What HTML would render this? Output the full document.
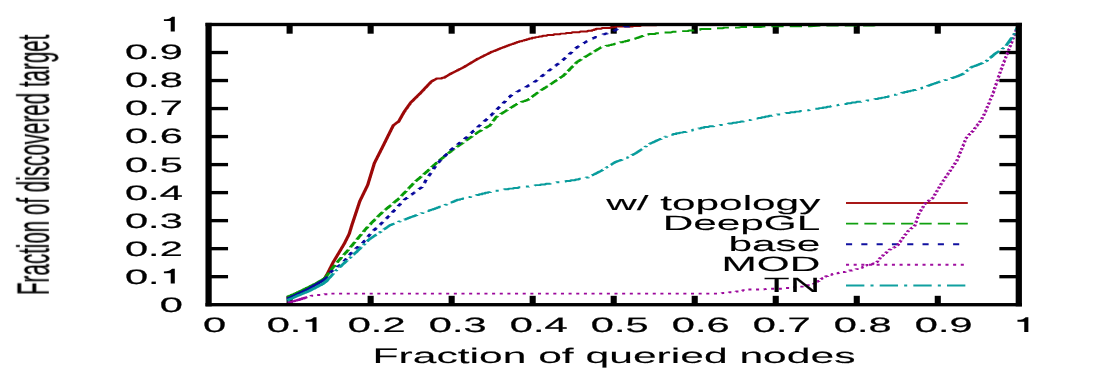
<!DOCTYPE html>
<html><head><meta charset="utf-8"><title>chart</title><style>html,body{margin:0;padding:0;background:#fff;overflow:hidden}</style></head><body><svg width="1096" height="371" viewBox="0 0 1096 371" style="display:block">
<rect width="1096" height="371" fill="#fff"/>
<defs><clipPath id="cp"><rect x="122.71" y="23.50" width="476.59" height="282.20"/></clipPath></defs>
<style>text{font-family:"Liberation Sans",sans-serif;fill:#000;stroke:#000;stroke-width:0.22px;stroke-linejoin:round;vector-effect:non-scaling-stroke;text-rendering:geometricPrecision}text.t{stroke-width:0.10px}</style><g opacity="0.999">
<g fill="#000">
<rect x="208.60" y="275.00" width="19.45" height="3.35"/>
<rect x="999.35" y="275.00" width="19.45" height="3.35"/>
<rect x="286.57" y="295.80" width="6.10" height="8.90"/>
<rect x="286.57" y="24.50" width="6.10" height="9.20"/>
<rect x="208.60" y="246.98" width="19.45" height="3.35"/>
<rect x="999.35" y="246.98" width="19.45" height="3.35"/>
<rect x="367.59" y="295.80" width="6.10" height="8.90"/>
<rect x="367.59" y="24.50" width="6.10" height="9.20"/>
<rect x="208.60" y="218.96" width="19.45" height="3.35"/>
<rect x="999.35" y="218.96" width="19.45" height="3.35"/>
<rect x="448.61" y="295.80" width="6.10" height="8.90"/>
<rect x="448.61" y="24.50" width="6.10" height="9.20"/>
<rect x="208.60" y="190.94" width="19.45" height="3.35"/>
<rect x="999.35" y="190.94" width="19.45" height="3.35"/>
<rect x="529.63" y="295.80" width="6.10" height="8.90"/>
<rect x="529.63" y="24.50" width="6.10" height="9.20"/>
<rect x="208.60" y="162.92" width="19.45" height="3.35"/>
<rect x="999.35" y="162.92" width="19.45" height="3.35"/>
<rect x="610.65" y="295.80" width="6.10" height="8.90"/>
<rect x="610.65" y="24.50" width="6.10" height="9.20"/>
<rect x="208.60" y="134.91" width="19.45" height="3.35"/>
<rect x="999.35" y="134.91" width="19.45" height="3.35"/>
<rect x="691.67" y="295.80" width="6.10" height="8.90"/>
<rect x="691.67" y="24.50" width="6.10" height="9.20"/>
<rect x="208.60" y="106.89" width="19.45" height="3.35"/>
<rect x="999.35" y="106.89" width="19.45" height="3.35"/>
<rect x="772.69" y="295.80" width="6.10" height="8.90"/>
<rect x="772.69" y="24.50" width="6.10" height="9.20"/>
<rect x="208.60" y="78.86" width="19.45" height="3.35"/>
<rect x="999.35" y="78.86" width="19.45" height="3.35"/>
<rect x="853.71" y="295.80" width="6.10" height="8.90"/>
<rect x="853.71" y="24.50" width="6.10" height="9.20"/>
<rect x="208.60" y="50.84" width="19.45" height="3.35"/>
<rect x="999.35" y="50.84" width="19.45" height="3.35"/>
<rect x="934.73" y="295.80" width="6.10" height="8.90"/>
<rect x="934.73" y="24.50" width="6.10" height="9.20"/>
</g>
<text class="t" transform="translate(820.30 209.50) scale(2.035 1)" text-anchor="end" font-size="20.80">w/ topology</text>
<g transform="scale(1.700 1)" fill="none" stroke="#9c0808" stroke-linejoin="round">
<path stroke="#a81818" stroke-width="1.95" d="M497.65 203.00 H569.29"/>
<path clip-path="url(#cp)" stroke-width="1.95" d="M169.12 298.20 L169.50 298.20 L169.59 297.50 L170.32 297.50 L170.49 296.80 L171.17 296.80 L171.34 296.10 L172.03 296.10 L172.20 295.40 L172.89 295.40 L173.06 294.70 L173.74 294.70 L173.91 294.00 L174.60 294.00 L174.77 293.30 L175.46 293.30 L175.63 292.60 L176.31 292.60 L176.48 291.90 L177.17 291.90 L177.34 291.20 L178.02 291.20 L178.20 290.50 L178.88 290.50 L179.05 289.80 L179.74 289.80 L179.91 289.10 L180.60 289.10 L180.76 288.40 L181.44 288.40 L181.59 287.70 L182.18 287.70 L182.33 287.00 L182.93 287.00 L183.08 286.30 L183.68 286.30 L183.83 285.60 L184.42 285.60 L184.57 284.90 L185.17 284.90 L185.32 284.20 L185.92 284.20 L186.07 283.50 L186.66 283.50 L186.81 282.80 L187.41 282.80 L187.56 282.10 L188.16 282.10 L188.30 281.40 L188.90 281.40 L189.05 280.70 L189.67 280.70 L189.77 280.00 L190.18 280.00 L190.27 279.30 L190.63 279.30 L190.70 278.60 L190.98 278.60 L191.03 277.90 L191.22 277.90 L191.27 277.20 L191.46 277.20 L191.51 276.50 L191.71 276.50 L191.75 275.80 L191.95 275.80 L192.00 275.10 L192.19 275.10 L192.24 274.40 L192.43 274.40 L192.48 273.70 L192.67 273.70 L192.71 273.00 L192.88 273.00 L192.92 272.30 L193.09 272.30 L193.13 271.60 L193.29 271.60 L193.34 270.90 L193.50 270.90 L193.54 270.20 L193.71 270.20 L193.75 269.50 L193.92 269.50 L193.96 268.80 L194.12 268.80 L194.17 268.10 L194.33 268.10 L194.37 267.40 L194.54 267.40 L194.58 266.70 L194.75 266.70 L194.79 266.00 L194.96 266.00 L195.00 265.30 L195.16 265.30 L195.20 264.60 L195.37 264.60 L195.41 263.90 L195.58 263.90 L195.62 263.20 L195.79 263.20 L195.83 262.50 L196.00 262.50 L196.04 261.80 L196.24 261.80 L196.29 261.10 L196.49 261.10 L196.54 260.40 L196.73 260.40 L196.78 259.70 L196.98 259.70 L197.03 259.00 L197.23 259.00 L197.28 258.30 L197.48 258.30 L197.52 257.60 L197.72 257.60 L197.77 256.90 L197.97 256.90 L198.02 256.20 L198.22 256.20 L198.27 255.50 L198.46 255.50 L198.51 254.80 L198.71 254.80 L198.76 254.10 L198.96 254.10 L199.01 253.40 L199.20 253.40 L199.25 252.70 L199.45 252.70 L199.50 252.00 L199.70 252.00 L199.75 251.30 L199.94 251.30 L199.99 250.60 L200.19 250.60 L200.24 249.90 L200.43 249.90 L200.48 249.20 L200.68 249.20 L200.73 248.50 L200.92 248.50 L200.97 247.80 L201.17 247.80 L201.22 247.10 L201.41 247.10 L201.46 246.40 L201.66 246.40 L201.71 245.70 L201.90 245.70 L201.95 245.00 L202.15 245.00 L202.20 244.30 L202.40 244.30 L202.44 243.60 L202.64 243.60 L202.68 242.90 L202.85 242.90 L202.89 242.20 L203.05 242.20 L203.09 241.50 L203.26 241.50 L203.30 240.80 L203.46 240.80 L203.51 240.10 L203.67 240.10 L203.71 239.40 L203.88 239.40 L203.92 238.70 L204.08 238.70 L204.12 238.00 L204.29 238.00 L204.33 237.30 L204.49 237.30 L204.54 236.60 L204.70 236.60 L204.74 235.90 L204.91 235.90 L204.95 235.20 L205.11 235.20 L205.15 234.50 L205.32 234.50 L205.35 233.80 L205.48 233.80 L205.51 233.10 L205.61 233.10 L205.63 232.40 L205.73 232.40 L205.76 231.70 L205.86 231.70 L205.88 231.00 L205.98 231.00 L206.01 230.30 L206.11 230.30 L206.13 229.60 L206.23 229.60 L206.26 228.90 L206.36 228.90 L206.39 228.20 L206.49 228.20 L206.51 227.50 L206.61 227.50 L206.64 226.80 L206.74 226.80 L206.76 226.10 L206.86 226.10 L206.89 225.40 L206.99 225.40 L207.01 224.70 L207.11 224.70 L207.14 224.00 L207.25 224.00 L207.28 223.30 L207.39 223.30 L207.42 222.60 L207.53 222.60 L207.55 221.90 L207.66 221.90 L207.69 221.20 L207.80 221.20 L207.83 220.50 L207.94 220.50 L207.96 219.80 L208.07 219.80 L208.10 219.10 L208.21 219.10 L208.24 218.40 L208.35 218.40 L208.38 217.70 L208.49 217.70 L208.51 217.00 L208.62 217.00 L208.65 216.30 L208.76 216.30 L208.79 215.60 L208.90 215.60 L208.92 214.90 L209.03 214.90 L209.06 214.20 L209.17 214.20 L209.20 213.50 L209.31 213.50 L209.33 212.80 L209.44 212.80 L209.47 212.10 L209.58 212.10 L209.61 211.40 L209.72 211.40 L209.74 210.70 L209.85 210.70 L209.88 210.00 L209.99 210.00 L210.02 209.30 L210.12 209.30 L210.15 208.60 L210.26 208.60 L210.29 207.90 L210.40 207.90 L210.42 207.20 L210.53 207.20 L210.56 206.50 L210.67 206.50 L210.70 205.80 L210.81 205.80 L210.83 205.10 L210.94 205.10 L210.97 204.40 L211.08 204.40 L211.11 203.70 L211.21 203.70 L211.24 203.00 L211.35 203.00 L211.38 202.30 L211.49 202.30 L211.51 201.60 L211.62 201.60 L211.65 200.90 L211.81 200.90 L211.85 200.20 L212.01 200.20 L212.05 199.50 L212.22 199.50 L212.26 198.80 L212.42 198.80 L212.46 198.10 L212.62 198.10 L212.66 197.40 L212.82 197.40 L212.86 196.70 L213.02 196.70 L213.06 196.00 L213.22 196.00 L213.26 195.30 L213.42 195.30 L213.46 194.60 L213.62 194.60 L213.66 193.90 L213.82 193.90 L213.86 193.20 L214.02 193.20 L214.06 192.50 L214.22 192.50 L214.26 191.80 L214.42 191.80 L214.46 191.10 L214.62 191.10 L214.66 190.40 L214.83 190.40 L214.87 189.70 L215.03 189.70 L215.07 189.00 L215.23 189.00 L215.27 188.30 L215.43 188.30 L215.47 187.60 L215.63 187.60 L215.67 186.90 L215.83 186.90 L215.87 186.20 L216.03 186.20 L216.07 185.50 L216.24 185.50 L216.27 184.80 L216.38 184.80 L216.41 184.10 L216.51 184.10 L216.53 183.40 L216.63 183.40 L216.66 182.70 L216.76 182.70 L216.78 182.00 L216.88 182.00 L216.91 181.30 L217.01 181.30 L217.04 180.60 L217.14 180.60 L217.16 179.90 L217.26 179.90 L217.29 179.20 L217.39 179.20 L217.41 178.50 L217.51 178.50 L217.54 177.80 L217.64 177.80 L217.67 177.10 L217.77 177.10 L217.79 176.40 L217.89 176.40 L217.92 175.70 L218.02 175.70 L218.04 175.00 L218.14 175.00 L218.17 174.30 L218.27 174.30 L218.30 173.60 L218.40 173.60 L218.42 172.90 L218.52 172.90 L218.55 172.20 L218.65 172.20 L218.67 171.50 L218.77 171.50 L218.80 170.80 L218.90 170.80 L218.93 170.10 L219.03 170.10 L219.05 169.40 L219.15 169.40 L219.18 168.70 L219.28 168.70 L219.30 168.00 L219.40 168.00 L219.43 167.30 L219.53 167.30 L219.56 166.60 L219.66 166.60 L219.68 165.90 L219.78 165.90 L219.81 165.20 L219.91 165.20 L219.93 164.50 L220.03 164.50 L220.06 163.80 L220.16 163.80 L220.18 163.10 L220.32 163.10 L220.36 162.40 L220.53 162.40 L220.57 161.70 L220.73 161.70 L220.78 161.00 L220.94 161.00 L220.98 160.30 L221.15 160.30 L221.19 159.60 L221.36 159.60 L221.40 158.90 L221.57 158.90 L221.61 158.20 L221.78 158.20 L221.82 157.50 L221.98 157.50 L222.02 156.80 L222.19 156.80 L222.23 156.10 L222.40 156.10 L222.44 155.40 L222.61 155.40 L222.65 154.70 L222.82 154.70 L222.86 154.00 L223.02 154.00 L223.07 153.30 L223.23 153.30 L223.27 152.60 L223.44 152.60 L223.48 151.90 L223.65 151.90 L223.69 151.20 L223.86 151.20 L223.90 150.50 L224.06 150.50 L224.11 149.80 L224.27 149.80 L224.31 149.10 L224.48 149.10 L224.52 148.40 L224.69 148.40 L224.73 147.70 L224.90 147.70 L224.94 147.00 L225.10 147.00 L225.15 146.30 L225.31 146.30 L225.35 145.60 L225.52 145.60 L225.56 144.90 L225.73 144.90 L225.77 144.20 L225.93 144.20 L225.97 143.50 L226.14 143.50 L226.18 142.80 L226.34 142.80 L226.38 142.10 L226.54 142.10 L226.58 141.40 L226.75 141.40 L226.79 140.70 L226.95 140.70 L226.99 140.00 L227.15 140.00 L227.19 139.30 L227.36 139.30 L227.40 138.60 L227.56 138.60 L227.60 137.90 L227.76 137.90 L227.80 137.20 L227.97 137.20 L228.01 136.50 L228.17 136.50 L228.21 135.80 L228.38 135.80 L228.42 135.10 L228.58 135.10 L228.62 134.40 L228.79 134.40 L228.83 133.70 L228.99 133.70 L229.04 133.00 L229.20 133.00 L229.24 132.30 L229.41 132.30 L229.45 131.60 L229.61 131.60 L229.65 130.90 L229.82 130.90 L229.86 130.20 L230.02 130.20 L230.06 129.50 L230.23 129.50 L230.27 128.80 L230.44 128.80 L230.48 128.10 L230.64 128.10 L230.68 127.40 L230.85 127.40 L230.89 126.70 L231.05 126.70 L231.09 126.00 L231.26 126.00 L231.30 125.30 L231.67 125.30 L231.75 124.60 L232.21 124.60 L232.32 123.90 L232.77 123.90 L232.88 123.20 L233.32 123.20 L233.43 122.50 L233.88 122.50 L233.99 121.80 L234.46 121.80 L234.52 121.10 L234.72 121.10 L234.77 120.40 L234.96 120.40 L235.00 119.70 L235.19 119.70 L235.24 119.00 L235.43 119.00 L235.47 118.30 L235.66 118.30 L235.71 117.60 L235.89 117.60 L235.94 116.90 L236.13 116.90 L236.17 116.20 L236.36 116.20 L236.41 115.50 L236.60 115.50 L236.64 114.80 L236.83 114.80 L236.88 114.10 L237.06 114.10 L237.11 113.40 L237.30 113.40 L237.34 112.70 L237.53 112.70 L237.58 112.00 L237.79 112.00 L237.84 111.30 L238.07 111.30 L238.13 110.60 L238.37 110.60 L238.43 109.90 L238.66 109.90 L238.72 109.20 L238.96 109.20 L239.01 108.50 L239.25 108.50 L239.31 107.80 L239.54 107.80 L239.60 107.10 L239.84 107.10 L239.89 106.40 L240.13 106.40 L240.19 105.70 L240.42 105.70 L240.48 105.00 L240.72 105.00 L240.77 104.30 L241.01 104.30 L241.07 103.60 L241.30 103.60 L241.36 102.90 L241.60 102.90 L241.66 102.20 L242.00 102.20 L242.08 101.50 L242.42 101.50 L242.50 100.80 L242.84 100.80 L242.92 100.10 L243.26 100.10 L243.34 99.40 L243.68 99.40 L243.76 98.70 L244.10 98.70 L244.18 98.00 L244.52 98.00 L244.60 97.30 L244.94 97.30 L245.02 96.60 L245.36 96.60 L245.44 95.90 L245.78 95.90 L245.86 95.20 L246.20 95.20 L246.28 94.50 L246.62 94.50 L246.70 93.80 L247.04 93.80 L247.12 93.10 L247.46 93.10 L247.54 92.40 L247.85 92.40 L247.93 91.70 L248.24 91.70 L248.32 91.00 L248.63 91.00 L248.71 90.30 L249.02 90.30 L249.10 89.60 L249.41 89.60 L249.49 88.90 L249.80 88.90 L249.88 88.20 L250.19 88.20 L250.27 87.50 L250.58 87.50 L250.66 86.80 L250.97 86.80 L251.05 86.10 L251.36 86.10 L251.44 85.40 L251.75 85.40 L251.83 84.70 L252.14 84.70 L252.22 84.00 L252.53 84.00 L252.61 83.30 L252.92 83.30 L253.00 82.60 L253.31 82.60 L253.39 81.90 L253.70 81.90 L253.78 81.20 L254.36 81.20 L254.49 80.50 L255.12 80.50 L255.27 79.80 L255.88 79.80 L256.04 79.10 L256.65 79.10 L256.80 78.40 L259.85 78.40 L260.15 77.70 L261.47 77.70 L261.61 77.00 L262.16 77.00 L262.30 76.30 L262.85 76.30 L262.99 75.60 L263.54 75.60 L263.68 74.90 L264.23 74.90 L264.37 74.20 L264.93 74.20 L265.07 73.50 L265.74 73.50 L265.90 72.80 L266.55 72.80 L266.72 72.10 L267.37 72.10 L267.53 71.40 L268.19 71.40 L268.35 70.70 L269.01 70.70 L269.17 70.00 L269.82 70.00 L269.99 69.30 L270.64 69.30 L270.80 68.60 L271.46 68.60 L271.62 67.90 L272.28 67.90 L272.43 67.20 L273.06 67.20 L273.20 66.50 L273.75 66.50 L273.89 65.80 L274.44 65.80 L274.58 65.10 L275.13 65.10 L275.27 64.40 L275.82 64.40 L275.96 63.70 L276.51 63.70 L276.65 63.00 L277.20 63.00 L277.34 62.30 L277.89 62.30 L278.03 61.60 L278.58 61.60 L278.72 60.90 L279.27 60.90 L279.40 60.20 L279.96 60.20 L280.09 59.50 L280.65 59.50 L280.78 58.80 L281.44 58.80 L281.60 58.10 L282.26 58.10 L282.42 57.40 L283.08 57.40 L283.24 56.70 L283.89 56.70 L284.06 56.00 L284.71 56.00 L284.88 55.30 L285.53 55.30 L285.69 54.60 L286.35 54.60 L286.51 53.90 L287.16 53.90 L287.33 53.20 L287.98 53.20 L288.15 52.50 L288.84 52.50 L289.01 51.80 L289.85 51.80 L290.06 51.10 L290.88 51.10 L291.09 50.40 L291.91 50.40 L292.12 49.70 L292.94 49.70 L293.15 49.00 L293.97 49.00 L294.18 48.30 L295.00 48.30 L295.21 47.60 L296.03 47.60 L296.24 46.90 L297.11 46.90 L297.33 46.20 L298.26 46.20 L298.49 45.50 L299.41 45.50 L299.64 44.80 L300.56 44.80 L300.79 44.10 L301.70 44.10 L301.93 43.40 L302.85 43.40 L303.08 42.70 L304.00 42.70 L304.23 42.00 L305.33 42.00 L305.60 41.30 L306.79 41.30 L307.08 40.60 L308.25 40.60 L308.54 39.90 L309.71 39.90 L310.00 39.20 L311.17 39.20 L311.47 38.50 L312.75 38.50 L313.07 37.80 L314.76 37.80 L315.18 37.10 L316.82 37.10 L317.24 36.40 L318.88 36.40 L319.29 35.70 L321.55 35.70 L322.09 35.00 L325.38 35.00 L326.14 34.30 L329.18 34.30 L329.87 33.60 L332.63 33.60 L333.32 32.90 L336.15 32.90 L336.86 32.20 L340.62 32.20 L341.54 31.50 L345.41 31.50 L345.90 30.80 L347.99 30.80 L348.24 30.10 L349.26 30.10 L349.51 29.40 L350.53 29.40 L350.79 28.70 L353.68 28.70 L354.35 28.00 L358.98 28.00 L359.52 27.30 L361.70 27.30 L362.24 26.60 L371.95 26.60 L372.83 25.90 L376.39 25.90 L377.27 25.20 L386.21 25.20 L388.30 24.50 L411.76 24.50"/>
</g>
<text class="t" transform="translate(820.30 230.10) scale(2.035 1)" text-anchor="end" font-size="20.80">DeepGL</text>
<g transform="scale(1.700 1)" fill="none" stroke="#089c08" stroke-linejoin="round">
<path stroke="#10a010" stroke-width="1.95" stroke-dasharray="7.2 3.6" d="M497.65 223.60 H569.29"/>
<path clip-path="url(#cp)" stroke-width="2.15" d="M169.12 297.00 L169.53 297.00 L169.62 296.30 L170.41 296.30 L170.59 295.60 L171.33 295.60 L171.51 294.90 L172.25 294.90 L172.43 294.20 L173.17 294.20 L173.35 293.50 L174.09 293.50 L174.27 292.80 L175.01 292.80 L175.18 292.10 L175.88 292.10 L176.05 291.40 L176.72 291.40 L176.89 290.70 L177.57 290.70 L177.74 290.00 L178.42 290.00 L178.59 289.30 L179.27 289.30 L179.44 288.60 L180.12 288.60 L180.29 287.90 L180.97 287.90 L181.13 287.20 L181.81 287.20 L181.97 286.50 L182.64 286.50 L182.81 285.80 L183.47 285.80 L183.64 285.10 L184.31 285.10 L184.48 284.40 L185.15 284.40 L185.31 283.70 L185.96 283.70 L186.10 283.00 L186.66 283.00 L186.80 282.30 L187.36 282.30 L187.50 281.60 L188.06 281.60 L188.20 280.90 L188.76 280.90 L188.90 280.20 L189.46 280.20 L189.60 279.50 L190.16 279.50 L190.30 278.80 L190.90 278.80 L190.95 278.10 L191.18 278.10"/>
<path clip-path="url(#cp)" stroke-width="1.95" stroke-dasharray="7.2 3.6" d="M191.18 278.20 L191.31 278.20 L191.34 277.50 L191.60 277.50 L191.66 276.80 L191.91 276.80 L191.97 276.10 L192.21 276.10 L192.28 275.40 L192.52 275.40 L192.58 274.70 L192.82 274.70 L192.89 274.00 L193.13 274.00 L193.19 273.30 L193.43 273.30 L193.50 272.60 L193.74 272.60 L193.80 271.90 L194.05 271.90 L194.11 271.20 L194.35 271.20 L194.41 270.50 L194.66 270.50 L194.72 269.80 L194.97 269.80 L195.03 269.10 L195.30 269.10 L195.37 268.40 L195.63 268.40 L195.70 267.70 L195.97 267.70 L196.03 267.00 L196.30 267.00 L196.37 266.30 L196.63 266.30 L196.70 265.60 L196.97 265.60 L197.03 264.90 L197.30 264.90 L197.36 264.20 L197.63 264.20 L197.70 263.50 L197.96 263.50 L198.03 262.80 L198.30 262.80 L198.36 262.10 L198.63 262.10 L198.70 261.40 L198.96 261.40 L199.03 260.70 L199.30 260.70 L199.36 260.00 L199.66 260.00 L199.74 259.30 L200.03 259.30 L200.11 258.60 L200.41 258.60 L200.48 257.90 L200.78 257.90 L200.85 257.20 L201.15 257.20 L201.22 256.50 L201.52 256.50 L201.60 255.80 L201.89 255.80 L201.97 255.10 L202.27 255.10 L202.34 254.40 L202.64 254.40 L202.71 253.70 L203.01 253.70 L203.09 253.00 L203.38 253.00 L203.46 252.30 L203.76 252.30 L203.83 251.60 L204.13 251.60 L204.20 250.90 L204.50 250.90 L204.57 250.20 L204.87 250.20 L204.94 249.50 L205.22 249.50 L205.28 248.80 L205.56 248.80 L205.63 248.10 L205.90 248.10 L205.97 247.40 L206.24 247.40 L206.31 246.70 L206.59 246.70 L206.65 246.00 L206.93 246.00 L207.00 245.30 L207.27 245.30 L207.34 244.60 L207.61 244.60 L207.68 243.90 L207.96 243.90 L208.02 243.20 L208.30 243.20 L208.37 242.50 L208.64 242.50 L208.71 241.80 L208.98 241.80 L209.05 241.10 L209.33 241.10 L209.39 240.40 L209.67 240.40 L209.74 239.70 L210.01 239.70 L210.08 239.00 L210.35 239.00 L210.42 238.30 L210.70 238.30 L210.77 237.60 L211.04 237.60 L211.11 236.90 L211.39 236.90 L211.46 236.20 L211.74 236.20 L211.81 235.50 L212.08 235.50 L212.15 234.80 L212.43 234.80 L212.50 234.10 L212.78 234.10 L212.84 233.40 L213.12 233.40 L213.19 232.70 L213.47 232.70 L213.54 232.00 L213.81 232.00 L213.88 231.30 L214.16 231.30 L214.23 230.60 L214.51 230.60 L214.58 229.90 L214.85 229.90 L214.92 229.20 L215.20 229.20 L215.27 228.50 L215.55 228.50 L215.61 227.80 L215.89 227.80 L215.96 227.10 L216.28 227.10 L216.36 226.40 L216.69 226.40 L216.77 225.70 L217.09 225.70 L217.18 225.00 L217.50 225.00 L217.58 224.30 L217.91 224.30 L217.99 223.60 L218.32 223.60 L218.40 222.90 L218.72 222.90 L218.81 222.20 L219.13 222.20 L219.21 221.50 L219.54 221.50 L219.62 220.80 L219.95 220.80 L220.03 220.10 L220.35 220.10 L220.44 219.40 L220.76 219.40 L220.84 218.70 L221.17 218.70 L221.25 218.00 L221.58 218.00 L221.66 217.30 L222.00 217.30 L222.09 216.60 L222.43 216.60 L222.51 215.90 L222.86 215.90 L222.94 215.20 L223.28 215.20 L223.37 214.50 L223.71 214.50 L223.79 213.80 L224.13 213.80 L224.22 213.10 L224.56 213.10 L224.64 212.40 L224.98 212.40 L225.07 211.70 L225.46 211.70 L225.56 211.00 L225.96 211.00 L226.06 210.30 L226.45 210.30 L226.55 209.60 L226.95 209.60 L227.05 208.90 L227.45 208.90 L227.55 208.20 L227.95 208.20 L228.05 207.50 L228.45 207.50 L228.55 206.80 L228.94 206.80 L229.04 206.10 L229.44 206.10 L229.54 205.40 L229.94 205.40 L230.04 204.70 L230.44 204.70 L230.54 204.00 L230.93 204.00 L231.03 203.30 L231.43 203.30 L231.53 202.60 L231.93 202.60 L232.03 201.90 L232.43 201.90 L232.53 201.20 L232.93 201.20 L233.03 200.50 L233.42 200.50 L233.52 199.80 L233.92 199.80 L234.02 199.10 L234.43 199.10 L234.51 198.40 L234.86 198.40 L234.94 197.70 L235.26 197.70 L235.34 197.00 L235.66 197.00 L235.74 196.30 L236.05 196.30 L236.13 195.60 L236.45 195.60 L236.53 194.90 L236.85 194.90 L236.93 194.20 L237.24 194.20 L237.32 193.50 L237.64 193.50 L237.72 192.80 L238.04 192.80 L238.12 192.10 L238.43 192.10 L238.51 191.40 L238.83 191.40 L238.91 190.70 L239.23 190.70 L239.31 190.00 L239.62 190.00 L239.70 189.30 L240.02 189.30 L240.10 188.60 L240.42 188.60 L240.50 187.90 L240.81 187.90 L240.89 187.20 L241.21 187.20 L241.29 186.50 L241.61 186.50 L241.69 185.80 L242.00 185.80 L242.08 185.10 L242.40 185.10 L242.48 184.40 L242.80 184.40 L242.88 183.70 L243.20 183.70 L243.27 183.00 L243.59 183.00 L243.67 182.30 L243.99 182.30 L244.07 181.60 L244.47 181.60 L244.57 180.90 L244.95 180.90 L245.05 180.20 L245.44 180.20 L245.53 179.50 L245.92 179.50 L246.01 178.80 L246.40 178.80 L246.50 178.10 L246.88 178.10 L246.98 177.40 L247.37 177.40 L247.46 176.70 L247.85 176.70 L247.95 176.00 L248.33 176.00 L248.43 175.30 L248.82 175.30 L248.91 174.60 L249.30 174.60 L249.39 173.90 L249.77 173.90 L249.86 173.20 L250.23 173.20 L250.32 172.50 L250.68 172.50 L250.77 171.80 L251.14 171.80 L251.23 171.10 L251.59 171.10 L251.69 170.40 L252.05 170.40 L252.14 169.70 L252.51 169.70 L252.60 169.00 L252.96 169.00 L253.05 168.30 L253.42 168.30 L253.51 167.60 L253.87 167.60 L253.97 166.90 L254.33 166.90 L254.42 166.20 L254.79 166.20 L254.88 165.50 L255.24 165.50 L255.33 164.80 L255.70 164.80 L255.79 164.10 L256.15 164.10 L256.25 163.40 L256.61 163.40 L256.70 162.70 L257.07 162.70 L257.16 162.00 L257.53 162.00 L257.63 161.30 L258.04 161.30 L258.15 160.60 L258.56 160.60 L258.66 159.90 L259.07 159.90 L259.18 159.20 L259.59 159.20 L259.69 158.50 L260.10 158.50 L260.21 157.80 L260.62 157.80 L260.72 157.10 L261.13 157.10 L261.24 156.40 L261.65 156.40 L261.75 155.70 L262.16 155.70 L262.26 155.00 L262.68 155.00 L262.78 154.30 L263.19 154.30 L263.29 153.60 L263.71 153.60 L263.81 152.90 L264.22 152.90 L264.32 152.20 L264.74 152.20 L264.84 151.50 L265.25 151.50 L265.35 150.80 L265.82 150.80 L265.93 150.10 L266.41 150.10 L266.53 149.40 L267.00 149.40 L267.12 148.70 L267.59 148.70 L267.71 148.00 L268.18 148.00 L268.30 147.30 L268.77 147.30 L268.89 146.60 L269.37 146.60 L269.48 145.90 L269.96 145.90 L270.08 145.20 L270.55 145.20 L270.67 144.50 L271.14 144.50 L271.26 143.80 L271.73 143.80 L271.85 143.10 L272.32 143.10 L272.44 142.40 L272.91 142.40 L273.03 141.70 L273.50 141.70 L273.62 141.00 L274.08 141.00 L274.20 140.30 L274.66 140.30 L274.78 139.60 L275.24 139.60 L275.36 138.90 L275.83 138.90 L275.94 138.20 L276.41 138.20 L276.52 137.50 L276.99 137.50 L277.10 136.80 L277.57 136.80 L277.68 136.10 L278.15 136.10 L278.26 135.40 L278.73 135.40 L278.85 134.70 L279.31 134.70 L279.43 134.00 L279.89 134.00 L280.01 133.30 L280.47 133.30 L280.59 132.60 L281.05 132.60 L281.17 131.90 L281.74 131.90 L281.88 131.20 L282.47 131.20 L282.61 130.50 L283.20 130.50 L283.35 129.80 L283.93 129.80 L284.08 129.10 L284.66 129.10 L284.81 128.40 L285.39 128.40 L285.54 127.70 L286.12 127.70 L286.27 127.00 L286.86 127.00 L287.00 126.30 L287.60 126.30 L287.72 125.60 L288.27 125.60 L288.33 124.90 L288.57 124.90 L288.63 124.20 L288.88 124.20 L288.94 123.50 L289.18 123.50 L289.24 122.80 L289.49 122.80 L289.55 122.10 L289.79 122.10 L289.85 121.40 L290.09 121.40 L290.15 120.70 L290.40 120.70 L290.46 120.00 L290.70 120.00 L290.76 119.30 L291.01 119.30 L291.07 118.60 L291.31 118.60 L291.37 117.90 L291.61 117.90 L291.67 117.20 L291.98 117.20 L292.06 116.50 L292.61 116.50 L292.74 115.80 L293.27 115.80 L293.40 115.10 L293.92 115.10 L294.05 114.40 L294.57 114.40 L294.70 113.70 L295.23 113.70 L295.36 113.00 L295.88 113.00 L296.01 112.30 L296.53 112.30 L296.67 111.60 L297.19 111.60 L297.32 110.90 L297.84 110.90 L297.97 110.20 L298.50 110.20 L298.63 109.50 L299.16 109.50 L299.29 108.80 L299.81 108.80 L299.95 108.10 L300.47 108.10 L300.60 107.40 L301.13 107.40 L301.26 106.70 L301.79 106.70 L301.92 106.00 L302.44 106.00 L302.58 105.30 L303.10 105.30 L303.23 104.60 L303.76 104.60 L303.89 103.90 L304.42 103.90 L304.55 103.20 L305.45 103.20 L305.67 102.50 L306.56 102.50 L306.78 101.80 L307.67 101.80 L307.90 101.10 L308.79 101.10 L309.01 100.40 L309.91 100.40 L310.11 99.70 L310.95 99.70 L311.05 99.00 L311.49 99.00 L311.60 98.30 L312.04 98.30 L312.15 97.60 L312.59 97.60 L312.70 96.90 L313.14 96.90 L313.25 96.20 L313.69 96.20 L313.80 95.50 L314.24 95.50 L314.35 94.80 L314.79 94.80 L314.90 94.10 L315.34 94.10 L315.45 93.40 L315.89 93.40 L316.00 92.70 L316.44 92.70 L316.55 92.00 L316.98 92.00 L317.09 91.30 L317.59 91.30 L317.72 90.60 L318.24 90.60 L318.38 89.90 L318.90 89.90 L319.03 89.20 L319.55 89.20 L319.68 88.50 L320.21 88.50 L320.34 87.80 L320.86 87.80 L320.99 87.10 L321.51 87.10 L321.64 86.40 L322.17 86.40 L322.30 85.70 L322.82 85.70 L322.95 85.00 L323.48 85.00 L323.60 84.30 L324.10 84.30 L324.22 83.60 L324.71 83.60 L324.83 82.90 L325.32 82.90 L325.44 82.20 L325.94 82.20 L326.06 81.50 L326.55 81.50 L326.67 80.80 L327.16 80.80 L327.28 80.10 L327.77 80.10 L327.90 79.40 L328.39 79.40 L328.51 78.70 L329.00 78.70 L329.12 78.00 L329.61 78.00 L329.74 77.30 L330.23 77.30 L330.35 76.60 L330.84 76.60 L330.96 75.90 L331.46 75.90 L331.54 75.20 L331.87 75.20 L331.95 74.50 L332.28 74.50 L332.36 73.80 L332.69 73.80 L332.77 73.10 L333.09 73.10 L333.18 72.40 L333.50 72.40 L333.58 71.70 L333.91 71.70 L333.99 71.00 L334.32 71.00 L334.40 70.30 L334.73 70.30 L334.81 69.60 L335.14 69.60 L335.22 68.90 L335.55 68.90 L335.63 68.20 L335.95 68.20 L336.04 67.50 L336.36 67.50 L336.45 66.80 L336.77 66.80 L336.85 66.10 L337.18 66.10 L337.26 65.40 L337.59 65.40 L337.67 64.70 L338.00 64.70 L338.08 64.00 L338.41 64.00 L338.49 63.30 L338.82 63.30 L338.90 62.60 L339.22 62.60 L339.31 61.90 L339.81 61.90 L339.94 61.20 L340.47 61.20 L340.60 60.50 L341.14 60.50 L341.27 59.80 L341.80 59.80 L341.93 59.10 L342.46 59.10 L342.60 58.40 L343.13 58.40 L343.26 57.70 L343.79 57.70 L343.92 57.00 L344.45 57.00 L344.59 56.30 L345.12 56.30 L345.25 55.60 L345.79 55.60 L345.92 54.90 L346.47 54.90 L346.61 54.20 L347.16 54.20 L347.29 53.50 L347.84 53.50 L347.98 52.80 L348.53 52.80 L348.67 52.10 L349.22 52.10 L349.35 51.40 L349.90 51.40 L350.04 50.70 L350.59 50.70 L350.73 50.00 L351.27 50.00 L351.41 49.30 L351.96 49.30 L352.10 48.60 L352.65 48.60 L352.78 47.90 L353.33 47.90 L353.47 47.20 L354.58 47.20 L354.84 46.50 L356.20 46.50 L356.54 45.80 L357.86 45.80 L358.19 45.10 L359.52 45.10 L359.85 44.40 L361.18 44.40 L361.51 43.70 L362.84 43.70 L363.16 43.00 L364.47 43.00 L364.79 42.30 L366.09 42.30 L366.42 41.60 L367.72 41.60 L368.05 40.90 L369.35 40.90 L369.67 40.20 L370.98 40.20 L371.30 39.50 L372.61 39.50 L372.85 38.80 L373.77 38.80 L374.00 38.10 L374.93 38.10 L375.16 37.40 L376.09 37.40 L376.32 36.70 L377.25 36.70 L377.48 36.00 L378.40 36.00 L378.64 35.30 L379.56 35.30 L379.79 34.60 L381.30 34.60 L381.66 33.90 L385.21 33.90 L386.03 33.20 L389.35 33.20 L390.18 32.50 L394.67 32.50 L395.77 31.80 L400.36 31.80 L401.20 31.10 L404.66 31.10 L405.36 30.40 L408.15 30.40 L408.85 29.70 L411.64 29.70 L412.33 29.00 L420.03 29.00 L421.04 28.30 L425.06 28.30 L426.06 27.60 L434.43 27.60 L436.40 26.90 L447.83 26.90 L450.59 26.20 L476.63 26.20 L482.72 25.50 L513.72 25.50 L521.28 24.80 L598.82 24.80"/>
</g>
<text class="t" transform="translate(820.30 250.70) scale(2.035 1)" text-anchor="end" font-size="20.80">base</text>
<g transform="scale(1.700 1)" fill="none" stroke="#08089c" stroke-linejoin="round">
<path stroke="#1010a0" stroke-width="1.95" stroke-dasharray="3.6 5.4" d="M497.65 244.20 H569.29"/>
<path clip-path="url(#cp)" stroke-width="2.15" d="M169.12 298.70 L169.51 298.70 L169.60 298.00 L170.35 298.00 L170.53 297.30 L171.24 297.30 L171.41 296.60 L172.12 296.60 L172.29 295.90 L173.00 295.90 L173.18 295.20 L173.88 295.20 L174.06 294.50 L174.77 294.50 L174.94 293.80 L175.64 293.80 L175.81 293.10 L176.51 293.10 L176.68 292.40 L177.37 292.40 L177.54 291.70 L178.24 291.70 L178.41 291.00 L179.10 291.00 L179.28 290.30 L179.97 290.30 L180.14 289.60 L180.84 289.60 L181.00 288.90 L181.64 288.90 L181.79 288.20 L182.36 288.20 L182.51 287.50 L183.08 287.50 L183.23 286.80 L183.81 286.80 L183.95 286.10 L184.53 286.10 L184.67 285.40 L185.25 285.40 L185.39 284.70 L185.97 284.70 L186.12 284.00 L186.69 284.00 L186.84 283.30 L187.41 283.30 L187.56 282.60 L188.14 282.60 L188.28 281.90 L188.86 281.90 L189.00 281.20 L189.58 281.20 L189.72 280.50 L190.30 280.50 L190.45 279.80 L191.07 279.80 L191.12 279.10 L191.35 279.10"/>
<path clip-path="url(#cp)" stroke-width="1.95" stroke-dasharray="3.6 5.4" d="M191.35 279.20 L191.50 279.20 L191.53 278.50 L191.81 278.50 L191.87 277.80 L192.13 277.80 L192.20 277.10 L192.46 277.10 L192.52 276.40 L192.78 276.40 L192.85 275.70 L193.11 275.70 L193.17 275.00 L193.43 275.00 L193.50 274.30 L193.76 274.30 L193.82 273.60 L194.08 273.60 L194.15 272.90 L194.41 272.90 L194.47 272.20 L194.73 272.20 L194.80 271.50 L195.19 271.50 L195.28 270.80 L195.73 270.80 L195.84 270.10 L196.27 270.10 L196.38 269.40 L196.82 269.40 L196.93 268.70 L197.37 268.70 L197.48 268.00 L197.92 268.00 L198.03 267.30 L198.46 267.30 L198.57 266.60 L199.01 266.60 L199.12 265.90 L199.56 265.90 L199.67 265.20 L200.11 265.20 L200.22 264.50 L200.65 264.50 L200.76 263.80 L201.21 263.80 L201.30 263.10 L201.67 263.10 L201.74 262.40 L202.02 262.40 L202.09 261.70 L202.36 261.70 L202.43 261.00 L202.71 261.00 L202.78 260.30 L203.06 260.30 L203.13 259.60 L203.41 259.60 L203.48 258.90 L203.76 258.90 L203.83 258.20 L204.11 258.20 L204.18 257.50 L204.45 257.50 L204.52 256.80 L204.80 256.80 L204.87 256.10 L205.15 256.10 L205.22 255.40 L205.50 255.40 L205.57 254.70 L205.85 254.70 L205.92 254.00 L206.19 254.00 L206.26 253.30 L206.54 253.30 L206.61 252.60 L206.89 252.60 L206.96 251.90 L207.24 251.90 L207.31 251.20 L207.59 251.20 L207.66 250.50 L208.08 250.50 L208.18 249.80 L208.60 249.80 L208.71 249.10 L209.12 249.10 L209.23 248.40 L209.64 248.40 L209.75 247.70 L210.17 247.70 L210.27 247.00 L210.69 247.00 L210.79 246.30 L211.21 246.30 L211.31 245.60 L211.73 245.60 L211.83 244.90 L212.25 244.90 L212.36 244.20 L212.78 244.20 L212.87 243.50 L213.27 243.50 L213.34 242.80 L213.62 242.80 L213.69 242.10 L213.96 242.10 L214.03 241.40 L214.30 241.40 L214.37 240.70 L214.64 240.70 L214.71 240.00 L214.99 240.00 L215.06 239.30 L215.33 239.30 L215.40 238.60 L215.67 238.60 L215.74 237.90 L216.01 237.90 L216.08 237.20 L216.36 237.20 L216.43 236.50 L216.70 236.50 L216.77 235.80 L217.04 235.80 L217.11 235.10 L217.38 235.10 L217.45 234.40 L217.73 234.40 L217.80 233.70 L218.07 233.70 L218.14 233.00 L218.41 233.00 L218.48 232.30 L218.76 232.30 L218.83 231.60 L219.21 231.60 L219.30 230.90 L219.67 230.90 L219.76 230.20 L220.13 230.20 L220.23 229.50 L220.59 229.50 L220.69 228.80 L221.05 228.80 L221.15 228.10 L221.51 228.10 L221.61 227.40 L221.98 227.40 L222.07 226.70 L222.44 226.70 L222.53 226.00 L222.90 226.00 L222.99 225.30 L223.36 225.30 L223.45 224.60 L223.81 224.60 L223.90 223.90 L224.23 223.90 L224.31 223.20 L224.65 223.20 L224.73 222.50 L225.06 222.50 L225.15 221.80 L225.48 221.80 L225.56 221.10 L225.90 221.10 L225.98 220.40 L226.31 220.40 L226.40 219.70 L226.73 219.70 L226.81 219.00 L227.15 219.00 L227.23 218.30 L227.56 218.30 L227.65 217.60 L227.98 217.60 L228.06 216.90 L228.40 216.90 L228.48 216.20 L228.81 216.20 L228.89 215.50 L229.20 215.50 L229.28 214.80 L229.59 214.80 L229.67 214.10 L229.98 214.10 L230.06 213.40 L230.38 213.40 L230.45 212.70 L230.77 212.70 L230.84 212.00 L231.16 212.00 L231.24 211.30 L231.55 211.30 L231.63 210.60 L231.94 210.60 L232.02 209.90 L232.33 209.90 L232.41 209.20 L232.72 209.20 L232.80 208.50 L233.12 208.50 L233.19 207.80 L233.51 207.80 L233.58 207.10 L233.90 207.10 L233.98 206.40 L234.29 206.40 L234.37 205.70 L234.68 205.70 L234.76 205.00 L235.07 205.00 L235.15 204.30 L235.46 204.30 L235.54 203.60 L235.86 203.60 L235.93 202.90 L236.25 202.90 L236.32 202.20 L236.64 202.20 L236.72 201.50 L237.03 201.50 L237.11 200.80 L237.42 200.80 L237.50 200.10 L237.82 200.10 L237.90 199.40 L238.38 199.40 L238.50 198.70 L238.95 198.70 L239.07 198.00 L239.53 198.00 L239.64 197.30 L240.10 197.30 L240.22 196.60 L240.67 196.60 L240.79 195.90 L241.25 195.90 L241.36 195.20 L241.82 195.20 L241.94 194.50 L242.39 194.50 L242.51 193.80 L242.97 193.80 L243.08 193.10 L243.54 193.10 L243.66 192.40 L244.11 192.40 L244.23 191.70 L244.69 191.70 L244.80 191.00 L245.26 191.00 L245.38 190.30 L245.84 190.30 L245.95 189.60 L246.41 189.60 L246.52 188.90 L246.98 188.90 L247.10 188.20 L247.56 188.20 L247.67 187.50 L248.13 187.50 L248.24 186.80 L248.73 186.80 L248.79 186.10 L249.01 186.10 L249.04 185.40 L249.19 185.40 L249.22 184.70 L249.37 184.70 L249.40 184.00 L249.55 184.00 L249.58 183.30 L249.73 183.30 L249.76 182.60 L249.91 182.60 L249.95 181.90 L250.09 181.90 L250.13 181.20 L250.27 181.20 L250.31 180.50 L250.51 180.50 L250.56 179.80 L250.79 179.80 L250.85 179.10 L251.08 179.10 L251.13 178.40 L251.36 178.40 L251.42 177.70 L251.65 177.70 L251.70 177.00 L251.93 177.00 L251.99 176.30 L252.22 176.30 L252.27 175.60 L252.50 175.60 L252.56 174.90 L252.79 174.90 L252.84 174.20 L253.07 174.20 L253.13 173.50 L253.35 173.50 L253.41 172.80 L253.64 172.80 L253.70 172.10 L253.92 172.10 L253.98 171.40 L254.21 171.40 L254.27 170.70 L254.49 170.70 L254.55 170.00 L254.78 170.00 L254.84 169.30 L255.06 169.30 L255.12 168.60 L255.35 168.60 L255.40 167.90 L255.63 167.90 L255.69 167.20 L255.92 167.20 L255.97 166.50 L256.20 166.50 L256.26 165.80 L256.49 165.80 L256.54 165.10 L256.77 165.10 L256.83 164.40 L257.06 164.40 L257.11 163.70 L257.34 163.70 L257.40 163.00 L257.70 163.00 L257.77 162.30 L258.11 162.30 L258.19 161.60 L258.52 161.60 L258.60 160.90 L258.93 160.90 L259.01 160.20 L259.34 160.20 L259.42 159.50 L259.75 159.50 L259.84 158.80 L260.16 158.80 L260.25 158.10 L260.58 158.10 L260.66 157.40 L260.99 157.40 L261.07 156.70 L261.40 156.70 L261.48 156.00 L261.81 156.00 L261.89 155.30 L262.22 155.30 L262.31 154.60 L262.64 154.60 L262.72 153.90 L263.05 153.90 L263.13 153.20 L263.46 153.20 L263.54 152.50 L263.87 152.50 L263.95 151.80 L264.28 151.80 L264.36 151.10 L264.69 151.10 L264.78 150.40 L265.11 150.40 L265.19 149.70 L265.55 149.70 L265.64 149.00 L266.06 149.00 L266.17 148.30 L266.58 148.30 L266.69 147.60 L267.10 147.60 L267.21 146.90 L267.62 146.90 L267.73 146.20 L268.14 146.20 L268.25 145.50 L268.66 145.50 L268.77 144.80 L269.18 144.80 L269.29 144.10 L269.70 144.10 L269.81 143.40 L270.22 143.40 L270.32 142.70 L270.74 142.70 L270.84 142.00 L271.26 142.00 L271.36 141.30 L271.78 141.30 L271.88 140.60 L272.30 140.60 L272.40 139.90 L272.82 139.90 L272.92 139.20 L273.34 139.20 L273.43 138.50 L273.80 138.50 L273.89 137.80 L274.25 137.80 L274.34 137.10 L274.71 137.10 L274.80 136.40 L275.16 136.40 L275.26 135.70 L275.62 135.70 L275.71 135.00 L276.08 135.00 L276.17 134.30 L276.53 134.30 L276.62 133.60 L276.99 133.60 L277.08 132.90 L277.44 132.90 L277.54 132.20 L277.90 132.20 L277.99 131.50 L278.36 131.50 L278.45 130.80 L278.81 130.80 L278.90 130.10 L279.27 130.10 L279.36 129.40 L279.72 129.40 L279.82 128.70 L280.18 128.70 L280.27 128.00 L280.64 128.00 L280.73 127.30 L281.09 127.30 L281.18 126.60 L281.56 126.60 L281.65 125.90 L282.02 125.90 L282.12 125.20 L282.49 125.20 L282.58 124.50 L282.96 124.50 L283.05 123.80 L283.42 123.80 L283.52 123.10 L283.89 123.10 L283.98 122.40 L284.36 122.40 L284.45 121.70 L284.82 121.70 L284.92 121.00 L285.29 121.00 L285.38 120.30 L285.76 120.30 L285.85 119.60 L286.22 119.60 L286.32 118.90 L286.69 118.90 L286.78 118.20 L287.16 118.20 L287.25 117.50 L287.63 117.50 L287.72 116.80 L288.09 116.80 L288.19 116.10 L288.56 116.10 L288.65 115.40 L288.99 115.40 L289.07 114.70 L289.40 114.70 L289.48 114.00 L289.81 114.00 L289.89 113.30 L290.22 113.30 L290.31 112.60 L290.64 112.60 L290.72 111.90 L291.05 111.90 L291.13 111.20 L291.46 111.20 L291.54 110.50 L291.87 110.50 L291.95 109.80 L292.28 109.80 L292.36 109.10 L292.69 109.10 L292.78 108.40 L293.11 108.40 L293.19 107.70 L293.52 107.70 L293.60 107.00 L293.93 107.00 L294.01 106.30 L294.34 106.30 L294.42 105.60 L294.75 105.60 L294.84 104.90 L295.17 104.90 L295.25 104.20 L295.58 104.20 L295.66 103.50 L296.00 103.50 L296.08 102.80 L296.41 102.80 L296.50 102.10 L296.83 102.10 L296.91 101.40 L297.24 101.40 L297.33 100.70 L297.66 100.70 L297.74 100.00 L298.07 100.00 L298.16 99.30 L298.49 99.30 L298.57 98.60 L298.91 98.60 L298.99 97.90 L299.32 97.90 L299.40 97.20 L299.74 97.20 L299.82 96.50 L300.15 96.50 L300.24 95.80 L300.57 95.80 L300.65 95.10 L300.98 95.10 L301.07 94.40 L301.43 94.40 L301.51 93.70 L302.20 93.70 L302.37 93.00 L303.02 93.00 L303.18 92.30 L303.84 92.30 L304.00 91.60 L304.65 91.60 L304.82 90.90 L305.47 90.90 L305.63 90.20 L306.28 90.20 L306.45 89.50 L307.10 89.50 L307.26 88.80 L307.89 88.80 L308.03 88.10 L308.61 88.10 L308.75 87.40 L309.32 87.40 L309.47 86.70 L310.04 86.70 L310.19 86.00 L310.76 86.00 L310.90 85.30 L311.48 85.30 L311.62 84.60 L312.19 84.60 L312.34 83.90 L312.91 83.90 L313.05 83.20 L313.64 83.20 L313.76 82.50 L314.27 82.50 L314.37 81.80 L314.78 81.80 L314.89 81.10 L315.30 81.10 L315.40 80.40 L315.82 80.40 L315.92 79.70 L316.33 79.70 L316.44 79.00 L316.85 79.00 L316.95 78.30 L317.37 78.30 L317.47 77.60 L317.89 77.60 L317.99 76.90 L318.40 76.90 L318.51 76.20 L318.92 76.20 L319.02 75.50 L319.44 75.50 L319.54 74.80 L319.95 74.80 L320.06 74.10 L320.48 74.10 L320.58 73.40 L321.02 73.40 L321.13 72.70 L321.57 72.70 L321.68 72.00 L322.12 72.00 L322.23 71.30 L322.67 71.30 L322.78 70.60 L323.22 70.60 L323.33 69.90 L323.77 69.90 L323.88 69.20 L324.32 69.20 L324.43 68.50 L324.87 68.50 L324.98 67.80 L325.42 67.80 L325.53 67.10 L325.96 67.10 L326.07 66.40 L326.52 66.40 L326.62 65.70 L327.05 65.70 L327.15 65.00 L327.57 65.00 L327.68 64.30 L328.09 64.30 L328.20 63.60 L328.62 63.60 L328.72 62.90 L329.14 62.90 L329.24 62.20 L329.66 62.20 L329.77 61.50 L330.19 61.50 L330.29 60.80 L330.71 60.80 L330.81 60.10 L331.24 60.10 L331.33 59.40 L331.72 59.40 L331.81 58.70 L332.17 58.70 L332.26 58.00 L332.62 58.00 L332.71 57.30 L333.07 57.30 L333.16 56.60 L333.53 56.60 L333.62 55.90 L333.98 55.90 L334.07 55.20 L334.43 55.20 L334.52 54.50 L334.88 54.50 L334.97 53.80 L335.33 53.80 L335.42 53.10 L335.79 53.10 L335.88 52.40 L336.24 52.40 L336.33 51.70 L336.69 51.70 L336.78 51.00 L337.14 51.00 L337.23 50.30 L337.60 50.30 L337.69 49.60 L338.05 49.60 L338.14 48.90 L338.50 48.90 L338.59 48.20 L338.95 48.20 L339.04 47.50 L339.45 47.50 L339.55 46.80 L340.12 46.80 L340.25 46.10 L340.80 46.10 L340.94 45.40 L341.49 45.40 L341.63 44.70 L342.18 44.70 L342.31 44.00 L342.86 44.00 L343.00 43.30 L343.55 43.30 L343.69 42.60 L344.24 42.60 L344.37 41.90 L344.92 41.90 L345.06 41.20 L345.61 41.20 L345.75 40.50 L346.29 40.50 L346.43 39.80 L346.98 39.80 L347.12 39.10 L347.89 39.10 L348.07 38.40 L348.94 38.40 L349.15 37.70 L350.01 37.70 L350.22 37.00 L351.07 37.00 L351.29 36.30 L352.14 36.30 L352.35 35.60 L353.22 35.60 L353.44 34.90 L354.57 34.90 L354.84 34.20 L355.94 34.20 L356.22 33.50 L357.31 33.50 L357.59 32.80 L358.71 32.80 L358.94 32.10 L359.92 32.10 L360.09 31.40 L360.76 31.40 L360.93 30.70 L361.60 30.70 L361.77 30.00 L362.44 30.00 L362.61 29.30 L363.28 29.30 L363.45 28.60 L364.13 28.60 L364.29 27.90 L364.97 27.90 L365.13 27.20 L366.83 27.20 L367.22 26.50 L370.09 26.50 L370.77 25.80 L374.43 25.80 L375.33 25.10 L598.82 25.10"/>
</g>
<text class="t" transform="translate(820.30 271.20) scale(2.035 1)" text-anchor="end" font-size="20.80">MOD</text>
<g transform="scale(1.700 1)" fill="none" stroke="#9c089c" stroke-linejoin="round">
<path stroke="#a010a0" stroke-width="1.95" stroke-dasharray="1.8 2.7" d="M497.65 264.70 H569.29"/>
<path clip-path="url(#cp)" stroke-width="2.15" d="M169.12 302.60 L169.91 302.60 L170.08 301.90 L171.57 301.90 L171.92 301.20 L173.35 301.20 L173.64 300.50 L174.84 300.50 L175.10 299.80 L176.16 299.80 L176.42 299.10 L177.48 299.10 L177.75 298.40 L178.89 298.40 L178.99 297.70 L179.41 297.70"/>
<path clip-path="url(#cp)" stroke-width="1.95" stroke-dasharray="1.8 2.7" d="M179.41 297.80 L179.99 297.80 L180.12 297.10 L181.21 297.10 L181.47 296.40 L182.81 296.40 L183.13 295.70 L185.56 295.70 L186.14 295.00 L190.26 295.00 L190.92 294.30 L193.55 294.30 L194.21 293.60 L424.38 293.60 L425.20 292.90 L428.49 292.90 L429.25 292.20 L432.37 292.20 L432.91 291.50 L435.16 291.50 L435.48 290.80 L436.74 290.80 L437.06 290.10 L438.33 290.10 L438.64 289.40 L449.27 289.40 L451.33 288.70 L460.16 288.70 L461.08 288.00 L464.77 288.00 L465.69 287.30 L469.58 287.30 L470.10 286.60 L472.24 286.60 L472.65 285.90 L474.29 285.90 L474.71 285.20 L476.35 285.20 L476.76 284.50 L478.55 284.50 L478.69 283.80 L479.27 283.80 L479.39 283.10 L479.88 283.10 L480.00 282.40 L480.49 282.40 L480.61 281.70 L481.10 281.70 L481.22 281.00 L481.71 281.00 L481.83 280.30 L482.32 280.30 L482.44 279.60 L482.92 279.60 L483.05 278.90 L483.53 278.90 L483.66 278.20 L484.14 278.20 L484.26 277.50 L484.75 277.50 L484.87 276.80 L485.64 276.80 L485.83 276.10 L486.85 276.10 L487.09 275.40 L488.08 275.40 L488.33 274.70 L489.32 274.70 L489.56 274.00 L491.02 274.00 L491.37 273.30 L493.04 273.30 L493.44 272.60 L495.08 272.60 L495.49 271.90 L497.12 271.90 L497.53 271.20 L499.18 271.20 L499.59 270.50 L501.24 270.50 L501.65 269.80 L503.29 269.80 L503.71 269.10 L505.47 269.10 L505.65 268.40 L506.40 268.40 L506.56 267.70 L507.23 267.70 L507.40 267.00 L508.06 267.00 L508.23 266.30 L508.90 266.30 L509.06 265.60 L509.73 265.60 L509.90 264.90 L510.86 264.90 L511.10 264.20 L513.17 264.20 L513.56 263.50 L515.27 263.50 L515.34 262.80 L515.61 262.80 L515.67 262.10 L515.94 262.10 L516.00 261.40 L516.27 261.40 L516.34 260.70 L516.60 260.70 L516.67 260.00 L516.93 260.00 L517.00 259.30 L517.26 259.30 L517.33 258.60 L517.60 258.60 L517.66 257.90 L517.93 257.90 L517.99 257.20 L518.26 257.20 L518.33 256.50 L518.68 256.50 L518.77 255.80 L519.17 255.80 L519.27 255.10 L519.66 255.10 L519.76 254.40 L520.15 254.40 L520.25 253.70 L520.65 253.70 L520.74 253.00 L521.14 253.00 L521.24 252.30 L521.63 252.30 L521.73 251.60 L522.12 251.60 L522.22 250.90 L522.61 250.90 L522.71 250.20 L523.12 250.20 L523.23 249.50 L523.91 249.50 L524.07 248.80 L524.72 248.80 L524.88 248.10 L525.53 248.10 L525.70 247.40 L526.35 247.40 L526.51 246.70 L527.17 246.70 L527.31 246.00 L527.91 246.00 L527.97 245.30 L528.19 245.30 L528.24 244.60 L528.46 244.60 L528.52 243.90 L528.74 243.90 L528.79 243.20 L529.01 243.20 L529.07 242.50 L529.29 242.50 L529.34 241.80 L529.56 241.80 L529.62 241.10 L529.84 241.10 L529.89 240.40 L530.11 240.40 L530.16 239.70 L530.38 239.70 L530.44 239.00 L530.66 239.00 L530.71 238.30 L530.93 238.30 L530.99 237.60 L531.24 237.60 L531.30 236.90 L531.57 236.90 L531.64 236.20 L531.90 236.20 L531.97 235.50 L532.23 235.50 L532.30 234.80 L532.57 234.80 L532.63 234.10 L532.90 234.10 L532.96 233.40 L533.23 233.40 L533.30 232.70 L533.56 232.70 L533.63 232.00 L533.89 232.00 L533.96 231.30 L534.24 231.30 L534.31 230.60 L534.73 230.60 L534.83 229.90 L535.24 229.90 L535.34 229.20 L535.75 229.20 L535.86 228.50 L536.26 228.50 L536.37 227.80 L536.78 227.80 L536.88 227.10 L537.29 227.10 L537.39 226.40 L537.81 226.40 L537.89 225.70 L538.21 225.70 L538.24 225.00 L538.35 225.00 L538.38 224.30 L538.49 224.30 L538.52 223.60 L538.63 223.60 L538.66 222.90 L538.77 222.90 L538.80 222.20 L538.91 222.20 L538.94 221.50 L539.05 221.50 L539.08 220.80 L539.19 220.80 L539.22 220.10 L539.33 220.10 L539.36 219.40 L539.47 219.40 L539.50 218.70 L539.61 218.70 L539.64 218.00 L539.75 218.00 L539.78 217.30 L539.89 217.30 L539.91 216.60 L540.03 216.60 L540.05 215.90 L540.17 215.90 L540.19 215.20 L540.31 215.20 L540.33 214.50 L540.44 214.50 L540.47 213.80 L540.59 213.80 L540.62 213.10 L540.84 213.10 L540.89 212.40 L541.09 212.40 L541.14 211.70 L541.35 211.70 L541.40 211.00 L541.60 211.00 L541.65 210.30 L541.86 210.30 L541.91 209.60 L542.11 209.60 L542.16 208.90 L542.37 208.90 L542.42 208.20 L542.62 208.20 L542.68 207.50 L542.88 207.50 L542.93 206.80 L543.14 206.80 L543.19 206.10 L543.39 206.10 L543.44 205.40 L543.65 205.40 L543.70 204.70 L543.90 204.70 L543.95 204.00 L544.16 204.00 L544.21 203.30 L544.41 203.30 L544.46 202.60 L544.88 202.60 L544.98 201.90 L545.50 201.90 L545.62 201.20 L546.12 201.20 L546.25 200.50 L546.75 200.50 L546.87 199.80 L547.38 199.80 L547.50 199.10 L548.01 199.10 L548.13 198.40 L548.64 198.40 L548.69 197.70 L548.89 197.70 L548.94 197.00 L549.13 197.00 L549.18 196.30 L549.38 196.30 L549.43 195.60 L549.63 195.60 L549.68 194.90 L549.88 194.90 L549.92 194.20 L550.12 194.20 L550.17 193.50 L550.37 193.50 L550.42 192.80 L550.62 192.80 L550.67 192.10 L550.86 192.10 L550.91 191.40 L551.11 191.40 L551.16 190.70 L551.36 190.70 L551.41 190.00 L551.60 190.00 L551.65 189.30 L551.85 189.30 L551.90 188.60 L552.10 188.60 L552.15 187.90 L552.35 187.90 L552.40 187.20 L552.59 187.20 L552.64 186.50 L552.84 186.50 L552.89 185.80 L553.09 185.80 L553.14 185.10 L553.33 185.10 L553.38 184.40 L553.60 184.40 L553.66 183.70 L553.88 183.70 L553.93 183.00 L554.15 183.00 L554.21 182.30 L554.43 182.30 L554.48 181.60 L554.70 181.60 L554.76 180.90 L554.98 180.90 L555.03 180.20 L555.25 180.20 L555.31 179.50 L555.53 179.50 L555.59 178.80 L555.81 178.80 L555.86 178.10 L556.08 178.10 L556.14 177.40 L556.36 177.40 L556.41 176.70 L556.63 176.70 L556.69 176.00 L556.91 176.00 L556.96 175.30 L557.18 175.30 L557.24 174.60 L557.46 174.60 L557.51 173.90 L557.74 173.90 L557.79 173.20 L558.01 173.20 L558.07 172.50 L558.29 172.50 L558.34 171.80 L558.56 171.80 L558.62 171.10 L558.84 171.10 L558.89 170.40 L559.11 170.40 L559.17 169.70 L559.39 169.70 L559.44 169.00 L559.66 169.00 L559.72 168.30 L559.94 168.30 L560.00 167.60 L560.22 167.60 L560.27 166.90 L560.49 166.90 L560.55 166.20 L560.77 166.20 L560.82 165.50 L561.04 165.50 L561.10 164.80 L561.32 164.80 L561.37 164.10 L561.59 164.10 L561.65 163.40 L561.87 163.40 L561.93 162.70 L562.15 162.70 L562.20 162.00 L562.42 162.00 L562.48 161.30 L562.70 161.30 L562.75 160.60 L562.96 160.60 L562.99 159.90 L563.13 159.90 L563.16 159.20 L563.30 159.20 L563.34 158.50 L563.47 158.50 L563.51 157.80 L563.64 157.80 L563.68 157.10 L563.81 157.10 L563.85 156.40 L563.98 156.40 L564.02 155.70 L564.15 155.70 L564.19 155.00 L564.32 155.00 L564.36 154.30 L564.49 154.30 L564.53 153.60 L564.66 153.60 L564.70 152.90 L564.83 152.90 L564.87 152.20 L565.00 152.20 L565.04 151.50 L565.17 151.50 L565.21 150.80 L565.34 150.80 L565.38 150.10 L565.52 150.10 L565.55 149.40 L565.69 149.40 L565.72 148.70 L565.86 148.70 L565.89 148.00 L566.03 148.00 L566.06 147.30 L566.20 147.30 L566.23 146.60 L566.37 146.60 L566.40 145.90 L566.54 145.90 L566.57 145.20 L566.71 145.20 L566.74 144.50 L566.88 144.50 L566.91 143.80 L567.04 143.80 L567.08 143.10 L567.21 143.10 L567.24 142.40 L567.38 142.40 L567.41 141.70 L567.54 141.70 L567.57 141.00 L567.71 141.00 L567.74 140.30 L567.87 140.30 L567.91 139.60 L568.04 139.60 L568.07 138.90 L568.21 138.90 L568.24 138.20 L568.37 138.20 L568.40 137.50 L568.65 137.50 L568.71 136.80 L569.05 136.80 L569.13 136.10 L569.46 136.10 L569.54 135.40 L569.87 135.40 L569.95 134.70 L570.28 134.70 L570.36 134.00 L570.69 134.00 L570.78 133.30 L571.11 133.30 L571.19 132.60 L571.52 132.60 L571.60 131.90 L571.93 131.90 L572.01 131.20 L572.35 131.20 L572.41 130.50 L572.67 130.50 L572.73 129.80 L572.98 129.80 L573.04 129.10 L573.29 129.10 L573.35 128.40 L573.59 128.40 L573.66 127.70 L573.90 127.70 L573.96 127.00 L574.21 127.00 L574.27 126.30 L574.52 126.30 L574.58 125.60 L574.83 125.60 L574.89 124.90 L575.14 124.90 L575.20 124.20 L575.45 124.20 L575.51 123.50 L575.76 123.50 L575.82 122.80 L576.06 122.80 L576.13 122.10 L576.37 122.10 L576.44 121.40 L576.68 121.40 L576.74 120.70 L577.00 120.70 L577.05 120.00 L577.26 120.00 L577.30 119.30 L577.47 119.30 L577.51 118.60 L577.68 118.60 L577.73 117.90 L577.90 117.90 L577.94 117.20 L578.11 117.20 L578.15 116.50 L578.32 116.50 L578.36 115.80 L578.53 115.80 L578.57 115.10 L578.74 115.10 L578.78 114.40 L578.95 114.40 L578.99 113.70 L579.16 113.70 L579.21 113.00 L579.38 113.00 L579.41 112.30 L579.55 112.30 L579.59 111.60 L579.72 111.60 L579.76 110.90 L579.90 110.90 L579.93 110.20 L580.07 110.20 L580.10 109.50 L580.24 109.50 L580.27 108.80 L580.41 108.80 L580.44 108.10 L580.58 108.10 L580.62 107.40 L580.75 107.40 L580.79 106.70 L580.92 106.70 L580.96 106.00 L581.09 106.00 L581.13 105.30 L581.27 105.30 L581.30 104.60 L581.44 104.60 L581.47 103.90 L581.61 103.90 L581.64 103.20 L581.78 103.20 L581.81 102.50 L581.95 102.50 L581.99 101.80 L582.12 101.80 L582.16 101.10 L582.29 101.10 L582.33 100.40 L582.46 100.40 L582.50 99.70 L582.64 99.70 L582.67 99.00 L582.81 99.00 L582.84 98.30 L582.98 98.30 L583.01 97.60 L583.15 97.60 L583.18 96.90 L583.32 96.90 L583.35 96.20 L583.49 96.20 L583.53 95.50 L583.66 95.50 L583.70 94.80 L583.83 94.80 L583.87 94.10 L584.01 94.10 L584.04 93.40 L584.18 93.40 L584.21 92.70 L584.35 92.70 L584.38 92.00 L584.49 92.00 L584.51 91.30 L584.62 91.30 L584.65 90.60 L584.76 90.60 L584.79 89.90 L584.90 89.90 L584.92 89.20 L585.03 89.20 L585.06 88.50 L585.17 88.50 L585.20 87.80 L585.31 87.80 L585.33 87.10 L585.44 87.10 L585.47 86.40 L585.58 86.40 L585.61 85.70 L585.71 85.70 L585.74 85.00 L585.85 85.00 L585.88 84.30 L585.99 84.30 L586.02 83.60 L586.12 83.60 L586.15 82.90 L586.26 82.90 L586.29 82.20 L586.40 82.20 L586.42 81.50 L586.53 81.50 L586.56 80.80 L586.67 80.80 L586.70 80.10 L586.81 80.10 L586.83 79.40 L586.94 79.40 L586.97 78.70 L587.08 78.70 L587.11 78.00 L587.22 78.00 L587.24 77.30 L587.35 77.30 L587.38 76.60 L587.49 76.60 L587.52 75.90 L587.63 75.90 L587.65 75.20 L587.76 75.20 L587.79 74.50 L587.90 74.50 L587.93 73.80 L588.04 73.80 L588.06 73.10 L588.17 73.10 L588.20 72.40 L588.31 72.40 L588.34 71.70 L588.47 71.70 L588.50 71.00 L588.63 71.00 L588.66 70.30 L588.78 70.30 L588.81 69.60 L588.94 69.60 L588.97 68.90 L589.10 68.90 L589.13 68.20 L589.25 68.20 L589.28 67.50 L589.41 67.50 L589.44 66.80 L589.57 66.80 L589.60 66.10 L589.72 66.10 L589.75 65.40 L589.88 65.40 L589.91 64.70 L590.04 64.70 L590.07 64.00 L590.19 64.00 L590.22 63.30 L590.35 63.30 L590.38 62.60 L590.51 62.60 L590.54 61.90 L590.66 61.90 L590.69 61.20 L590.82 61.20 L590.85 60.50 L590.98 60.50 L591.01 59.80 L591.13 59.80 L591.16 59.10 L591.29 59.10 L591.32 58.40 L591.45 58.40 L591.49 57.70 L591.62 57.70 L591.65 57.00 L591.78 57.00 L591.81 56.30 L591.94 56.30 L591.98 55.60 L592.11 55.60 L592.14 54.90 L592.27 54.90 L592.30 54.20 L592.43 54.20 L592.46 53.50 L592.60 53.50 L592.63 52.80 L592.76 52.80 L592.79 52.10 L592.92 52.10 L592.95 51.40 L593.09 51.40 L593.12 50.70 L593.25 50.70 L593.28 50.00 L593.41 50.00 L593.44 49.30 L593.57 49.30 L593.61 48.60 L593.74 48.60 L593.77 47.90 L593.90 47.90 L593.93 47.20 L594.06 47.20 L594.10 46.50 L594.23 46.50 L594.26 45.80 L594.39 45.80 L594.42 45.10 L594.55 45.10 L594.59 44.40 L594.72 44.40 L594.75 43.70 L594.88 43.70 L594.91 43.00 L595.04 43.00 L595.08 42.30 L595.21 42.30 L595.24 41.60 L595.36 41.60 L595.39 40.90 L595.51 40.90 L595.54 40.20 L595.66 40.20 L595.69 39.50 L595.81 39.50 L595.84 38.80 L595.96 38.80 L596.00 38.10 L596.12 38.10 L596.15 37.40 L596.27 37.40 L596.30 36.70 L596.42 36.70 L596.45 36.00 L596.57 36.00 L596.60 35.30 L596.72 35.30 L596.75 34.60 L596.87 34.60 L596.90 33.90 L597.02 33.90 L597.05 33.20 L597.17 33.20 L597.20 32.50 L597.32 32.50 L597.35 31.80 L597.48 31.80 L597.51 31.10 L597.63 31.10 L597.66 30.40 L597.78 30.40 L597.81 29.70 L597.93 29.70 L597.96 29.00 L598.08 29.00 L598.11 28.30 L598.24 28.30"/>
</g>
<text class="t" transform="translate(820.30 291.90) scale(2.035 1)" text-anchor="end" font-size="20.80">TN</text>
<g transform="scale(1.700 1)" fill="none" stroke="#089c9c" stroke-linejoin="round">
<path stroke="#10a0a0" stroke-width="1.95" stroke-dasharray="10.8 3.6 1.8 3.6" d="M497.65 285.40 H569.29"/>
<path clip-path="url(#cp)" stroke-width="2.15" d="M169.12 300.30 L169.53 300.30 L169.62 299.60 L170.41 299.60 L170.59 298.90 L171.33 298.90 L171.51 298.20 L172.25 298.20 L172.43 297.50 L173.17 297.50 L173.35 296.80 L174.09 296.80 L174.27 296.10 L175.01 296.10 L175.19 295.40 L175.97 295.40 L176.17 294.70 L176.96 294.70 L177.15 294.00 L177.94 294.00 L178.14 293.30 L178.93 293.30 L179.13 292.60 L179.92 292.60 L180.11 291.90 L180.91 291.90 L181.09 291.20 L181.79 291.20 L181.94 290.50 L182.58 290.50 L182.74 289.80 L183.38 289.80 L183.54 289.10 L184.17 289.10 L184.33 288.40 L184.97 288.40 L185.13 287.70 L185.77 287.70 L185.92 287.00 L186.56 287.00 L186.72 286.30 L187.36 286.30 L187.52 285.60 L188.15 285.60 L188.31 284.90 L188.95 284.90 L189.11 284.20 L189.77 284.20 L189.88 283.50 L190.33 283.50 L190.44 282.80 L190.88 282.80 L190.99 282.10 L191.42 282.10 L191.53 281.40 L192.02 281.40 L192.02 280.70 L192.06 280.70"/>
<path clip-path="url(#cp)" stroke-width="1.95" stroke-dasharray="10.8 3.6 1.8 3.6" d="M192.06 281.00 L192.23 281.00 L192.27 280.30 L192.59 280.30 L192.67 279.60 L192.98 279.60 L193.05 278.90 L193.36 278.90 L193.44 278.20 L193.74 278.20 L193.82 277.50 L194.12 277.50 L194.20 276.80 L194.51 276.80 L194.58 276.10 L194.89 276.10 L194.97 275.40 L195.27 275.40 L195.35 274.70 L195.66 274.70 L195.73 274.00 L196.04 274.00 L196.11 273.30 L196.42 273.30 L196.50 272.60 L196.80 272.60 L196.88 271.90 L197.19 271.90 L197.26 271.20 L197.57 271.20 L197.64 270.50 L197.95 270.50 L198.03 269.80 L198.35 269.80 L198.44 269.10 L198.80 269.10 L198.89 268.40 L199.25 268.40 L199.33 267.70 L199.69 267.70 L199.78 267.00 L200.14 267.00 L200.23 266.30 L200.59 266.30 L200.68 265.60 L201.03 265.60 L201.12 264.90 L201.48 264.90 L201.57 264.20 L201.93 264.20 L202.02 263.50 L202.38 263.50 L202.47 262.80 L202.82 262.80 L202.91 262.10 L203.27 262.10 L203.36 261.40 L203.72 261.40 L203.81 260.70 L204.17 260.70 L204.26 260.00 L204.61 260.00 L204.70 259.30 L205.06 259.30 L205.16 258.60 L205.52 258.60 L205.61 257.90 L205.98 257.90 L206.07 257.20 L206.43 257.20 L206.52 256.50 L206.89 256.50 L206.98 255.80 L207.34 255.80 L207.43 255.10 L207.80 255.10 L207.89 254.40 L208.25 254.40 L208.34 253.70 L208.71 253.70 L208.80 253.00 L209.16 253.00 L209.25 252.30 L209.62 252.30 L209.71 251.60 L210.08 251.60 L210.16 250.90 L210.52 250.90 L210.60 250.20 L210.93 250.20 L211.01 249.50 L211.34 249.50 L211.42 248.80 L211.75 248.80 L211.84 248.10 L212.16 248.10 L212.25 247.40 L212.58 247.40 L212.66 246.70 L212.99 246.70 L213.07 246.00 L213.40 246.00 L213.48 245.30 L213.81 245.30 L213.89 244.60 L214.22 244.60 L214.31 243.90 L214.64 243.90 L214.72 243.20 L215.05 243.20 L215.13 242.50 L215.46 242.50 L215.54 241.80 L215.87 241.80 L215.95 241.10 L216.28 241.10 L216.36 240.40 L216.69 240.40 L216.78 239.70 L217.15 239.70 L217.24 239.00 L217.76 239.00 L217.88 238.30 L218.38 238.30 L218.51 237.60 L219.01 237.60 L219.13 236.90 L219.63 236.90 L219.76 236.20 L220.26 236.20 L220.38 235.50 L220.89 235.50 L221.01 234.80 L221.51 234.80 L221.64 234.10 L222.14 234.10 L222.26 233.40 L222.76 233.40 L222.89 232.70 L223.39 232.70 L223.51 232.00 L224.00 232.00 L224.12 231.30 L224.59 231.30 L224.70 230.60 L225.17 230.60 L225.29 229.90 L225.76 229.90 L225.88 229.20 L226.35 229.20 L226.46 228.50 L226.93 228.50 L227.05 227.80 L227.52 227.80 L227.64 227.10 L228.10 227.10 L228.22 226.40 L228.69 226.40 L228.81 225.70 L229.31 225.70 L229.43 225.00 L230.28 225.00 L230.49 224.30 L231.30 224.30 L231.51 223.60 L232.32 223.60 L232.52 222.90 L233.34 222.90 L233.54 222.20 L234.36 222.20 L234.56 221.50 L235.42 221.50 L235.63 220.80 L236.50 220.80 L236.72 220.10 L237.59 220.10 L237.81 219.40 L238.68 219.40 L238.90 218.70 L239.77 218.70 L239.98 218.00 L240.86 218.00 L241.07 217.30 L241.94 217.30 L242.16 216.60 L243.03 216.60 L243.25 215.90 L244.12 215.90 L244.34 215.20 L245.21 215.20 L245.43 214.50 L246.35 214.50 L246.58 213.80 L247.53 213.80 L247.77 213.10 L248.71 213.10 L248.95 212.40 L249.90 212.40 L250.13 211.70 L251.08 211.70 L251.32 211.00 L252.26 211.00 L252.50 210.30 L253.44 210.30 L253.68 209.60 L254.63 209.60 L254.86 208.90 L255.81 208.90 L256.05 208.20 L256.99 208.20 L257.23 207.50 L258.18 207.50 L258.41 206.80 L259.36 206.80 L259.59 206.10 L260.54 206.10 L260.77 205.40 L261.70 205.40 L261.90 204.70 L262.70 204.70 L262.90 204.00 L263.70 204.00 L263.89 203.30 L264.69 203.30 L264.89 202.60 L265.69 202.60 L265.89 201.90 L266.68 201.90 L266.88 201.20 L267.68 201.20 L267.88 200.50 L268.72 200.50 L268.93 199.80 L270.28 199.80 L270.60 199.10 L271.90 199.10 L272.22 198.40 L273.51 198.40 L273.84 197.70 L275.13 197.70 L275.46 197.00 L276.75 197.00 L277.07 196.30 L278.37 196.30 L278.69 195.60 L280.05 195.60 L280.38 194.90 L281.73 194.90 L282.07 194.20 L283.42 194.20 L283.76 193.50 L285.11 193.50 L285.44 192.80 L286.79 192.80 L287.13 192.10 L288.54 192.10 L288.89 191.40 L291.02 191.40 L291.53 190.70 L293.58 190.70 L294.09 190.00 L296.14 190.00 L296.65 189.30 L298.79 189.30 L299.33 188.60 L301.78 188.60 L302.39 187.90 L304.81 187.90 L305.41 187.20 L307.83 187.20 L308.44 186.50 L311.08 186.50 L311.74 185.80 L314.38 185.80 L315.04 185.10 L317.70 185.10 L318.30 184.40 L320.73 184.40 L321.33 183.70 L323.74 183.70 L324.34 183.00 L326.75 183.00 L327.34 182.30 L329.69 182.30 L330.27 181.60 L332.59 181.60 L333.17 180.90 L335.51 180.90 L336.05 180.20 L338.29 180.20 L338.70 179.50 L340.34 179.50 L340.74 178.80 L342.38 178.80 L342.79 178.10 L344.47 178.10 L344.79 177.40 L346.15 177.40 L346.32 176.70 L346.98 176.70 L347.15 176.00 L347.81 176.00 L347.98 175.30 L348.64 175.30 L348.81 174.60 L349.47 174.60 L349.64 173.90 L350.30 173.90 L350.47 173.20 L351.13 173.20 L351.30 172.50 L351.96 172.50 L352.13 171.80 L352.79 171.80 L352.96 171.10 L353.63 171.10 L353.77 170.40 L354.34 170.40 L354.47 169.70 L355.00 169.70 L355.13 169.00 L355.66 169.00 L355.79 168.30 L356.32 168.30 L356.45 167.60 L356.98 167.60 L357.12 166.90 L357.64 166.90 L357.78 166.20 L358.31 166.20 L358.44 165.50 L358.97 165.50 L359.10 164.80 L359.63 164.80 L359.76 164.10 L360.29 164.10 L360.42 163.40 L360.95 163.40 L361.09 162.70 L361.62 162.70 L361.75 162.00 L362.58 162.00 L362.78 161.30 L363.66 161.30 L363.88 160.60 L364.75 160.60 L364.97 159.90 L365.84 159.90 L366.06 159.20 L366.93 159.20 L367.15 158.50 L368.02 158.50 L368.24 157.80 L369.13 157.80 L369.31 157.10 L370.06 157.10 L370.21 156.40 L370.82 156.40 L370.97 155.70 L371.57 155.70 L371.72 155.00 L372.32 155.00 L372.47 154.30 L373.07 154.30 L373.22 153.60 L373.82 153.60 L373.97 152.90 L374.57 152.90 L374.69 152.20 L375.18 152.20 L375.30 151.50 L375.79 151.50 L375.91 150.80 L376.40 150.80 L376.53 150.10 L377.01 150.10 L377.14 149.40 L377.63 149.40 L377.75 148.70 L378.24 148.70 L378.36 148.00 L378.85 148.00 L378.97 147.30 L379.46 147.30 L379.58 146.60 L380.07 146.60 L380.19 145.90 L380.68 145.90 L380.80 145.20 L381.29 145.20 L381.41 144.50 L381.90 144.50 L382.02 143.80 L382.53 143.80 L382.66 143.10 L383.41 143.10 L383.60 142.40 L384.33 142.40 L384.51 141.70 L385.24 141.70 L385.42 141.00 L386.15 141.00 L386.33 140.30 L387.06 140.30 L387.24 139.60 L387.97 139.60 L388.15 138.90 L388.88 138.90 L389.06 138.20 L389.79 138.20 L389.98 137.50 L390.82 137.50 L391.02 136.80 L392.05 136.80 L392.31 136.10 L393.32 136.10 L393.57 135.40 L394.58 135.40 L394.83 134.70 L395.84 134.70 L396.09 134.00 L397.55 134.00 L397.90 133.30 L399.56 133.30 L399.97 132.60 L401.61 132.60 L402.02 131.90 L403.68 131.90 L404.03 131.20 L405.46 131.20 L405.80 130.50 L407.16 130.50 L407.49 129.80 L408.85 129.80 L409.19 129.10 L410.55 129.10 L410.89 128.40 L412.25 128.40 L412.59 127.70 L413.94 127.70 L414.28 127.00 L416.74 127.00 L417.32 126.30 L419.74 126.30 L420.34 125.60 L422.77 125.60 L423.32 124.90 L425.51 124.90 L426.02 124.20 L428.07 124.20 L428.58 123.50 L430.63 123.50 L431.15 122.80 L433.24 122.80 L433.67 122.10 L435.40 122.10 L435.81 121.40 L437.45 121.40 L437.86 120.70 L439.50 120.70 L439.91 120.00 L441.54 120.00 L441.95 119.30 L443.59 119.30 L444.00 118.60 L445.68 118.60 L446.10 117.90 L447.77 117.90 L448.19 117.20 L449.87 117.20 L450.29 116.50 L451.97 116.50 L452.39 115.80 L454.16 115.80 L454.60 115.10 L456.70 115.10 L457.21 114.40 L459.27 114.40 L459.79 113.70 L461.85 113.70 L462.37 113.00 L464.53 113.00 L465.06 112.30 L467.39 112.30 L467.96 111.60 L470.27 111.60 L470.85 110.90 L473.16 110.90 L473.72 110.20 L475.94 110.20 L476.50 109.50 L478.71 109.50 L479.27 108.80 L481.52 108.80 L481.99 108.10 L483.88 108.10 L484.33 107.40 L486.11 107.40 L486.56 106.70 L488.35 106.70 L488.79 106.00 L490.58 106.00 L491.02 105.30 L492.92 105.30 L493.39 104.60 L495.48 104.60 L495.99 103.90 L498.05 103.90 L498.57 103.20 L500.63 103.20 L501.15 102.50 L503.40 102.50 L503.96 101.80 L506.39 101.80 L506.99 101.10 L509.42 101.10 L509.98 100.40 L512.29 100.40 L512.70 99.70 L514.33 99.70 L514.73 99.00 L516.36 99.00 L516.77 98.30 L518.40 98.30 L518.80 97.60 L520.45 97.60 L520.82 96.90 L522.35 96.90 L522.66 96.20 L523.93 96.20 L524.25 95.50 L525.51 95.50 L525.83 94.80 L527.09 94.80 L527.41 94.10 L528.67 94.10 L528.99 93.40 L530.26 93.40 L530.57 92.70 L531.85 92.70 L532.17 92.00 L533.56 92.00 L533.91 91.30 L535.29 91.30 L535.64 90.60 L537.02 90.60 L537.37 89.90 L538.75 89.90 L539.10 89.20 L540.50 89.20 L540.80 88.50 L542.06 88.50 L542.28 87.80 L543.19 87.80 L543.42 87.10 L544.32 87.10 L544.55 86.40 L545.46 86.40 L545.69 85.70 L546.59 85.70 L546.82 85.00 L547.73 85.00 L547.95 84.30 L548.86 84.30 L549.09 83.60 L549.99 83.60 L550.22 82.90 L551.13 82.90 L551.36 82.20 L552.41 82.20 L552.67 81.50 L553.79 81.50 L554.07 80.80 L555.19 80.80 L555.46 80.10 L556.58 80.10 L556.86 79.40 L557.97 79.40 L558.25 78.70 L559.36 78.70 L559.64 78.00 L560.77 78.00 L561.01 77.30 L562.00 77.30 L562.20 76.60 L563.01 76.60 L563.22 75.90 L564.03 75.90 L564.23 75.20 L565.05 75.20 L565.25 74.50 L566.10 74.50 L566.24 73.80 L566.81 73.80 L566.91 73.10 L567.33 73.10 L567.43 72.40 L567.84 72.40 L567.95 71.70 L568.36 71.70 L568.46 71.00 L568.87 71.00 L568.98 70.30 L569.39 70.30 L569.49 69.60 L569.91 69.60 L570.01 68.90 L570.42 68.90 L570.53 68.20 L570.94 68.20 L571.04 67.50 L571.49 67.50 L571.60 66.80 L572.53 66.80 L572.75 66.10 L573.62 66.10 L573.84 65.40 L574.71 65.40 L574.93 64.70 L575.80 64.70 L576.02 64.00 L576.89 64.00 L577.11 63.30 L577.98 63.30 L578.20 62.60 L579.12 62.60 L579.24 61.90 L579.75 61.90 L579.85 61.20 L580.25 61.20 L580.35 60.50 L580.74 60.50 L580.84 59.80 L581.24 59.80 L581.34 59.10 L581.73 59.10 L581.83 58.40 L582.23 58.40 L582.33 57.70 L582.72 57.70 L582.82 57.00 L583.22 57.00 L583.32 56.30 L583.71 56.30 L583.81 55.60 L584.21 55.60 L584.31 54.90 L584.70 54.90 L584.80 54.20 L585.20 54.20 L585.30 53.50 L585.78 53.50 L585.90 52.80 L586.40 52.80 L586.52 52.10 L587.02 52.10 L587.14 51.40 L587.64 51.40 L587.76 50.70 L588.26 50.70 L588.39 50.00 L588.88 50.00 L589.01 49.30 L589.50 49.30 L589.63 48.60 L590.12 48.60 L590.25 47.90 L590.75 47.90 L590.86 47.20 L591.33 47.20 L591.39 46.50 L591.62 46.50 L591.68 45.80 L591.91 45.80 L591.97 45.10 L592.21 45.10 L592.27 44.40 L592.50 44.40 L592.56 43.70 L592.79 43.70 L592.85 43.00 L593.09 43.00 L593.14 42.30 L593.38 42.30 L593.44 41.60 L593.67 41.60 L593.73 40.90 L593.97 40.90 L594.02 40.20 L594.26 40.20 L594.32 39.50 L594.55 39.50 L594.61 38.80 L594.85 38.80 L594.90 38.10 L595.14 38.10 L595.20 37.40 L595.43 37.40 L595.49 36.70 L595.72 36.70 L595.78 36.00 L596.02 36.00 L596.07 35.30 L596.29 35.30 L596.33 34.60 L596.48 34.60 L596.52 33.90 L596.68 33.90 L596.72 33.20 L596.88 33.20 L596.92 32.50 L597.07 32.50 L597.11 31.80 L597.27 31.80 L597.31 31.10 L597.47 31.10 L597.51 30.40 L597.66 30.40 L597.70 29.70 L597.86 29.70 L597.90 29.00 L598.06 29.00 L598.10 28.30 L598.26 28.30 L598.29 27.60 L598.45 27.60 L598.49 26.90 L598.65 26.90 L598.68 26.20 L598.82 26.20"/>
</g>
<g fill="#000">
<rect x="205.47" y="22.82" width="816.45" height="3.35"/>
<rect x="205.47" y="303.02" width="816.45" height="3.35"/>
<rect x="205.47" y="22.82" width="6.25" height="283.55"/>
<rect x="1015.67" y="22.82" width="6.25" height="283.55"/>
</g>
<text transform="translate(182.80 311.60) scale(2.000 1)" text-anchor="end" font-size="20.80">0</text>
<text transform="translate(214.60 332.00) scale(2.000 1)" text-anchor="middle" font-size="20.80">0</text>
<text transform="translate(124.98 283.58) scale(2.000 1)" text-anchor="start" font-size="20.80">0.</text><path d="M174.80 283.58 V268.83 H172.10 Q170.20 271.33 163.90 271.43 V273.23 H170.70 V283.58 Z"/>
<text transform="translate(266.71 332.00) scale(2.000 1)" text-anchor="start" font-size="20.80">0.</text><path d="M316.53 332.00 V317.25 H313.83 Q311.93 319.75 305.63 319.85 V321.65 H312.43 V332.00 Z"/>
<text transform="translate(182.80 255.56) scale(2.000 1)" text-anchor="end" font-size="20.80">0.2</text>
<text transform="translate(376.64 332.00) scale(2.000 1)" text-anchor="middle" font-size="20.80">0.2</text>
<text transform="translate(182.80 227.54) scale(2.000 1)" text-anchor="end" font-size="20.80">0.3</text>
<text transform="translate(457.66 332.00) scale(2.000 1)" text-anchor="middle" font-size="20.80">0.3</text>
<text transform="translate(182.80 199.52) scale(2.000 1)" text-anchor="end" font-size="20.80">0.4</text>
<text transform="translate(538.68 332.00) scale(2.000 1)" text-anchor="middle" font-size="20.80">0.4</text>
<text transform="translate(182.80 171.50) scale(2.000 1)" text-anchor="end" font-size="20.80">0.5</text>
<text transform="translate(619.70 332.00) scale(2.000 1)" text-anchor="middle" font-size="20.80">0.5</text>
<text transform="translate(182.80 143.48) scale(2.000 1)" text-anchor="end" font-size="20.80">0.6</text>
<text transform="translate(700.72 332.00) scale(2.000 1)" text-anchor="middle" font-size="20.80">0.6</text>
<text transform="translate(182.80 115.46) scale(2.000 1)" text-anchor="end" font-size="20.80">0.7</text>
<text transform="translate(781.74 332.00) scale(2.000 1)" text-anchor="middle" font-size="20.80">0.7</text>
<text transform="translate(182.80 87.44) scale(2.000 1)" text-anchor="end" font-size="20.80">0.8</text>
<text transform="translate(862.76 332.00) scale(2.000 1)" text-anchor="middle" font-size="20.80">0.8</text>
<text transform="translate(182.80 59.42) scale(2.000 1)" text-anchor="end" font-size="20.80">0.9</text>
<text transform="translate(943.78 332.00) scale(2.000 1)" text-anchor="middle" font-size="20.80">0.9</text>
<path d="M174.80 31.40 V16.65 H172.10 Q170.20 19.15 163.90 19.25 V21.05 H170.70 V31.40 Z"/>
<path d="M1028.36 332.00 V317.25 H1025.66 Q1023.76 319.75 1017.46 319.85 V321.65 H1024.26 V332.00 Z"/>
<text class="t" transform="translate(614.00 363.30) scale(2.010 1)" text-anchor="middle" font-size="21.20">Fraction of queried nodes</text>
<text class="t" transform="translate(48.7 164.75) rotate(-90) scale(1 2.205)" text-anchor="middle" font-size="20.56">Fraction of discovered target</text>
</g></svg></body></html>
